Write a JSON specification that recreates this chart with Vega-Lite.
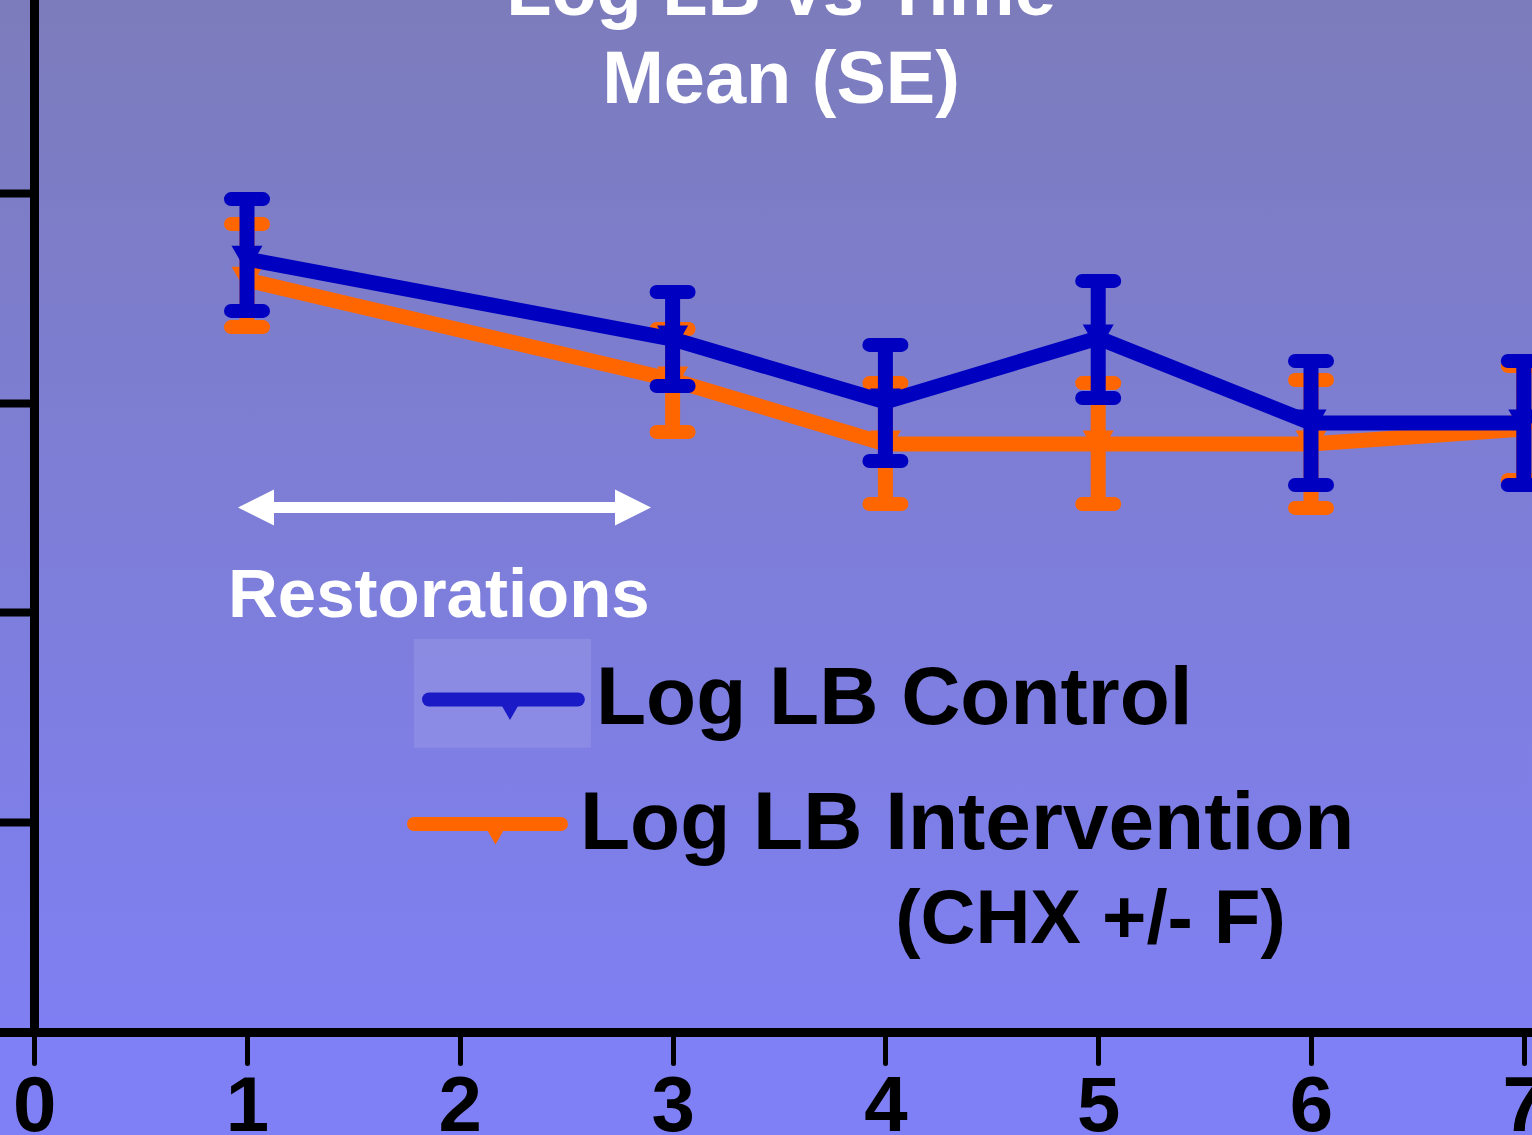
{
  "$schema": "https://vega.github.io/schema/vega-lite/v6.json",
  "width": 1532,
  "height": 1032,
  "autosize": {"type": "none"},
  "padding": {"left": 0, "top": 0, "right": 0, "bottom": 103},
  "background": "#8080F6",
  "config": {
    "view": {"stroke": null, "fill": {"gradient": "linear", "x1": 0, "y1": 0, "x2": 0, "y2": 1, "stops": [{"offset": 0, "color": "#7C7CBC"}, {"offset": 1, "color": "#7F7FF3"}]}},
    "font": "Liberation Sans",
    "axis": {"grid": false, "zindex": 1, "domainColor": "#000000", "tickColor": "#000000", "labelColor": "#000000", "labelFont": "Liberation Sans", "labelFontWeight": "bold", "domainCap": "round", "tickCap": "round"}
  },
  "datasets": {
    "series": [
      {"g": "Intervention", "t": 1, "m": 3.584, "lo": 3.360, "hi": 3.851},
      {"g": "Intervention", "t": 3, "m": 3.108, "lo": 2.860, "hi": 3.351},
      {"g": "Intervention", "t": 4, "m": 2.803, "lo": 2.517, "hi": 3.093},
      {"g": "Intervention", "t": 5, "m": 2.803, "lo": 2.517, "hi": 3.093},
      {"g": "Intervention", "t": 6, "m": 2.803, "lo": 2.498, "hi": 3.108},
      {"g": "Intervention", "t": 7, "m": 2.874, "lo": 2.631, "hi": 3.174},
      {"g": "Control", "t": 1, "m": 3.684, "lo": 3.437, "hi": 3.970},
      {"g": "Control", "t": 3, "m": 3.303, "lo": 3.079, "hi": 3.527},
      {"g": "Control", "t": 4, "m": 3.003, "lo": 2.722, "hi": 3.275},
      {"g": "Control", "t": 5, "m": 3.308, "lo": 3.022, "hi": 3.580},
      {"g": "Control", "t": 6, "m": 2.903, "lo": 2.607, "hi": 3.198},
      {"g": "Control", "t": 7, "m": 2.903, "lo": 2.607, "hi": 3.198}
    ]
  },
  "layer": [
    {
      "data": {"name": "series"},
      "transform": [{"filter": "datum.g === 'Intervention'"}],
      "mark": {"type": "rule", "strokeWidth": 15},
      "encoding": {
        "x": {"field": "t", "type": "quantitative", "scale": {"domain": [-0.1607, 7.0385], "nice": false, "zero": false},
          "axis": {"title": null, "values": [0, 1, 2, 3, 4, 5, 6, 7], "format": "d", "grid": false, "zindex": 1, "domainColor": "#000000", "domainWidth": 9, "domainCap": "round", "tickColor": "#000000", "tickWidth": 5, "tickSize": 31, "tickCap": "round", "labelColor": "#000000", "labelFont": "Liberation Sans", "labelFontWeight": "bold", "labelFontSize": 78, "labelPadding": 5, "labelFlush": false, "labelOverlap": false}},
        "y": {"field": "lo", "type": "quantitative", "scale": {"domain": [0, 4.919], "nice": false, "zero": false},
          "axis": {"title": null, "values": [0, 1, 2, 3, 4], "labels": false, "grid": false, "zindex": 1, "offset": -34, "domainColor": "#000000", "domainWidth": 9, "domainCap": "round", "tickColor": "#000000", "tickWidth": 8, "tickSize": 34, "tickCap": "round"}},
        "y2": {"field": "hi"},
        "color": {"field": "g", "type": "nominal", "scale": {"domain": ["Control", "Intervention"], "range": ["#0000C0", "#FF6600"]}, "legend": null}
      }
    },
    {
      "data": {"name": "series"},
      "transform": [{"filter": "datum.g === 'Intervention'"}],
      "mark": {"type": "rule", "strokeWidth": 14, "strokeCap": "round", "xOffset": -16, "x2Offset": 16},
      "encoding": {
        "x": {"field": "t", "type": "quantitative", "scale": {"domain": [-0.1607, 7.0385], "nice": false, "zero": false}},
        "x2": {"field": "t"},
        "y": {"field": "hi", "type": "quantitative", "scale": {"domain": [0, 4.919], "nice": false, "zero": false}},
        "color": {"field": "g", "type": "nominal", "scale": {"domain": ["Control", "Intervention"], "range": ["#0000C0", "#FF6600"]}, "legend": null}
      }
    },
    {
      "data": {"name": "series"},
      "transform": [{"filter": "datum.g === 'Intervention'"}],
      "mark": {"type": "rule", "strokeWidth": 14, "strokeCap": "round", "xOffset": -16, "x2Offset": 16},
      "encoding": {
        "x": {"field": "t", "type": "quantitative", "scale": {"domain": [-0.1607, 7.0385], "nice": false, "zero": false}},
        "x2": {"field": "t"},
        "y": {"field": "lo", "type": "quantitative", "scale": {"domain": [0, 4.919], "nice": false, "zero": false}},
        "color": {"field": "g", "type": "nominal", "scale": {"domain": ["Control", "Intervention"], "range": ["#0000C0", "#FF6600"]}, "legend": null}
      }
    },
    {
      "data": {"name": "series"},
      "transform": [{"filter": "datum.g === 'Intervention'"}],
      "mark": {"type": "line", "strokeWidth": 15},
      "encoding": {
        "x": {"field": "t", "type": "quantitative", "scale": {"domain": [-0.1607, 7.0385], "nice": false, "zero": false}},
        "y": {"field": "m", "type": "quantitative", "scale": {"domain": [0, 4.919], "nice": false, "zero": false}},
        "color": {"field": "g", "type": "nominal", "scale": {"domain": ["Control", "Intervention"], "range": ["#0000C0", "#FF6600"]}, "legend": null}
      }
    },
    {
      "data": {"name": "series"},
      "transform": [{"filter": "datum.g === 'Intervention'"}],
      "mark": {"type": "point", "shape": "triangle-down", "filled": true, "size": 961, "opacity": 1},
      "encoding": {
        "x": {"field": "t", "type": "quantitative", "scale": {"domain": [-0.1607, 7.0385], "nice": false, "zero": false}},
        "y": {"field": "m", "type": "quantitative", "scale": {"domain": [0, 4.919], "nice": false, "zero": false}},
        "color": {"field": "g", "type": "nominal", "scale": {"domain": ["Control", "Intervention"], "range": ["#0000C0", "#FF6600"]}, "legend": null}
      }
    },
    {
      "data": {"name": "series"},
      "transform": [{"filter": "datum.g === 'Control'"}],
      "mark": {"type": "rule", "strokeWidth": 15},
      "encoding": {
        "x": {"field": "t", "type": "quantitative", "scale": {"domain": [-0.1607, 7.0385], "nice": false, "zero": false}},
        "y": {"field": "lo", "type": "quantitative", "scale": {"domain": [0, 4.919], "nice": false, "zero": false}},
        "y2": {"field": "hi"},
        "color": {"field": "g", "type": "nominal", "scale": {"domain": ["Control", "Intervention"], "range": ["#0000C0", "#FF6600"]}, "legend": null}
      }
    },
    {
      "data": {"name": "series"},
      "transform": [{"filter": "datum.g === 'Control'"}],
      "mark": {"type": "rule", "strokeWidth": 14, "strokeCap": "round", "xOffset": -16, "x2Offset": 16},
      "encoding": {
        "x": {"field": "t", "type": "quantitative", "scale": {"domain": [-0.1607, 7.0385], "nice": false, "zero": false}},
        "x2": {"field": "t"},
        "y": {"field": "hi", "type": "quantitative", "scale": {"domain": [0, 4.919], "nice": false, "zero": false}},
        "color": {"field": "g", "type": "nominal", "scale": {"domain": ["Control", "Intervention"], "range": ["#0000C0", "#FF6600"]}, "legend": null}
      }
    },
    {
      "data": {"name": "series"},
      "transform": [{"filter": "datum.g === 'Control'"}],
      "mark": {"type": "rule", "strokeWidth": 14, "strokeCap": "round", "xOffset": -16, "x2Offset": 16},
      "encoding": {
        "x": {"field": "t", "type": "quantitative", "scale": {"domain": [-0.1607, 7.0385], "nice": false, "zero": false}},
        "x2": {"field": "t"},
        "y": {"field": "lo", "type": "quantitative", "scale": {"domain": [0, 4.919], "nice": false, "zero": false}},
        "color": {"field": "g", "type": "nominal", "scale": {"domain": ["Control", "Intervention"], "range": ["#0000C0", "#FF6600"]}, "legend": null}
      }
    },
    {
      "data": {"name": "series"},
      "transform": [{"filter": "datum.g === 'Control'"}],
      "mark": {"type": "line", "strokeWidth": 15},
      "encoding": {
        "x": {"field": "t", "type": "quantitative", "scale": {"domain": [-0.1607, 7.0385], "nice": false, "zero": false}},
        "y": {"field": "m", "type": "quantitative", "scale": {"domain": [0, 4.919], "nice": false, "zero": false}},
        "color": {"field": "g", "type": "nominal", "scale": {"domain": ["Control", "Intervention"], "range": ["#0000C0", "#FF6600"]}, "legend": null}
      }
    },
    {
      "data": {"name": "series"},
      "transform": [{"filter": "datum.g === 'Control'"}],
      "mark": {"type": "point", "shape": "triangle-down", "filled": true, "size": 961, "opacity": 1},
      "encoding": {
        "x": {"field": "t", "type": "quantitative", "scale": {"domain": [-0.1607, 7.0385], "nice": false, "zero": false}},
        "y": {"field": "m", "type": "quantitative", "scale": {"domain": [0, 4.919], "nice": false, "zero": false}},
        "color": {"field": "g", "type": "nominal", "scale": {"domain": ["Control", "Intervention"], "range": ["#0000C0", "#FF6600"]}, "legend": null}
      }
    },
    {
      "data": {"values": [
        {"g": "Control", "x1": 1.8553, "x2": 2.5545, "y": 1.585},
        {"g": "Intervention", "x1": 1.7847, "x2": 2.4755, "y": 0.9914}
      ]},
      "mark": {"type": "rule", "strokeWidth": 14, "strokeCap": "round"},
      "encoding": {
        "x": {"field": "x1", "type": "quantitative", "scale": {"domain": [-0.1607, 7.0385], "nice": false, "zero": false}},
        "x2": {"field": "x2"},
        "y": {"field": "y", "type": "quantitative", "scale": {"domain": [0, 4.919], "nice": false, "zero": false}},
        "color": {"field": "g", "type": "nominal", "scale": {"domain": ["Control", "Intervention"], "range": ["#0000C0", "#FF6600"]}, "legend": null}
      }
    },
    {
      "data": {"values": [
        {"g": "Control", "x": 2.2359, "y": 1.585},
        {"g": "Intervention", "x": 2.1678, "y": 0.9914}
      ]},
      "mark": {"type": "point", "shape": "triangle-down", "filled": true, "size": 961, "opacity": 1, "yOffset": 7},
      "encoding": {
        "x": {"field": "x", "type": "quantitative", "scale": {"domain": [-0.1607, 7.0385], "nice": false, "zero": false}},
        "y": {"field": "y", "type": "quantitative", "scale": {"domain": [0, 4.919], "nice": false, "zero": false}},
        "color": {"field": "g", "type": "nominal", "scale": {"domain": ["Control", "Intervention"], "range": ["#0000C0", "#FF6600"]}, "legend": null}
      }
    },
    {
      "data": {"values": [{"x1": 1.7838, "x2": 2.6165, "y1": 1.873, "y2": 1.355}]},
      "mark": {"type": "rect", "fill": "#FFFFFF", "fillOpacity": 0.1},
      "encoding": {
        "x": {"field": "x1", "type": "quantitative", "scale": {"domain": [-0.1607, 7.0385], "nice": false, "zero": false}},
        "x2": {"field": "x2"},
        "y": {"field": "y1", "type": "quantitative", "scale": {"domain": [0, 4.919], "nice": false, "zero": false}},
        "y2": {"field": "y2"}
      }
    },
    {
      "data": {"values": [{"x1": 1.0423, "x2": 2.8139, "y": 2.5}]},
      "mark": {"type": "rule", "strokeWidth": 11, "color": "#FFFFFF"},
      "encoding": {
        "x": {"field": "x1", "type": "quantitative", "scale": {"domain": [-0.1607, 7.0385], "nice": false, "zero": false}},
        "x2": {"field": "x2"},
        "y": {"field": "y", "type": "quantitative", "scale": {"domain": [0, 4.919], "nice": false, "zero": false}}
      }
    },
    {
      "data": {"values": [
        {"end": "left", "x": 1.0423, "y": 2.5},
        {"end": "right", "x": 2.8139, "y": 2.5}
      ]},
      "mark": {"type": "point", "filled": true, "size": 1296, "opacity": 1, "color": "#FFFFFF"},
      "encoding": {
        "x": {"field": "x", "type": "quantitative", "scale": {"domain": [-0.1607, 7.0385], "nice": false, "zero": false}},
        "y": {"field": "y", "type": "quantitative", "scale": {"domain": [0, 4.919], "nice": false, "zero": false}},
        "shape": {"field": "end", "type": "nominal", "scale": {"domain": ["left", "right"], "range": ["M-1,0L1,-1L1,1Z", "M1,0L-1,-1L-1,1Z"]}, "legend": null}
      }
    },
    {
      "data": {"values": [
        {"s": "Log LB vs Time", "x": 3.5094, "y": 4.847},
        {"s": "Mean (SE)", "x": 3.5094, "y": 4.428}
      ]},
      "mark": {"type": "text", "font": "Liberation Sans", "fontWeight": "bold", "fontSize": 74, "color": "#FFFFFF", "align": "center", "baseline": "alphabetic"},
      "encoding": {
        "x": {"field": "x", "type": "quantitative", "scale": {"domain": [-0.1607, 7.0385], "nice": false, "zero": false}},
        "y": {"field": "y", "type": "quantitative", "scale": {"domain": [0, 4.919], "nice": false, "zero": false}},
        "text": {"field": "s"}
      }
    },
    {
      "data": {"values": [{"s": "Restorations", "x": 0.9107, "y": 1.978}]},
      "mark": {"type": "text", "font": "Liberation Sans", "fontWeight": "bold", "fontSize": 69, "color": "#FFFFFF", "align": "left", "baseline": "alphabetic"},
      "encoding": {
        "x": {"field": "x", "type": "quantitative", "scale": {"domain": [-0.1607, 7.0385], "nice": false, "zero": false}},
        "y": {"field": "y", "type": "quantitative", "scale": {"domain": [0, 4.919], "nice": false, "zero": false}},
        "text": {"field": "s"}
      }
    },
    {
      "data": {"values": [
        {"s": "Log LB Control", "x": 2.640, "y": 1.469},
        {"s": "Log LB Intervention", "x": 2.5649, "y": 0.872}
      ]},
      "mark": {"type": "text", "font": "Liberation Sans", "fontWeight": "bold", "fontSize": 82, "color": "#000000", "align": "left", "baseline": "alphabetic"},
      "encoding": {
        "x": {"field": "x", "type": "quantitative", "scale": {"domain": [-0.1607, 7.0385], "nice": false, "zero": false}},
        "y": {"field": "y", "type": "quantitative", "scale": {"domain": [0, 4.919], "nice": false, "zero": false}},
        "text": {"field": "s"}
      }
    },
    {
      "data": {"values": [{"s": "(CHX +/- F)", "x": 4.9638, "y": 0.426}]},
      "mark": {"type": "text", "font": "Liberation Sans", "fontWeight": "bold", "fontSize": 76, "color": "#000000", "align": "center", "baseline": "alphabetic"},
      "encoding": {
        "x": {"field": "x", "type": "quantitative", "scale": {"domain": [-0.1607, 7.0385], "nice": false, "zero": false}},
        "y": {"field": "y", "type": "quantitative", "scale": {"domain": [0, 4.919], "nice": false, "zero": false}},
        "text": {"field": "s"}
      }
    }
  ]
}
